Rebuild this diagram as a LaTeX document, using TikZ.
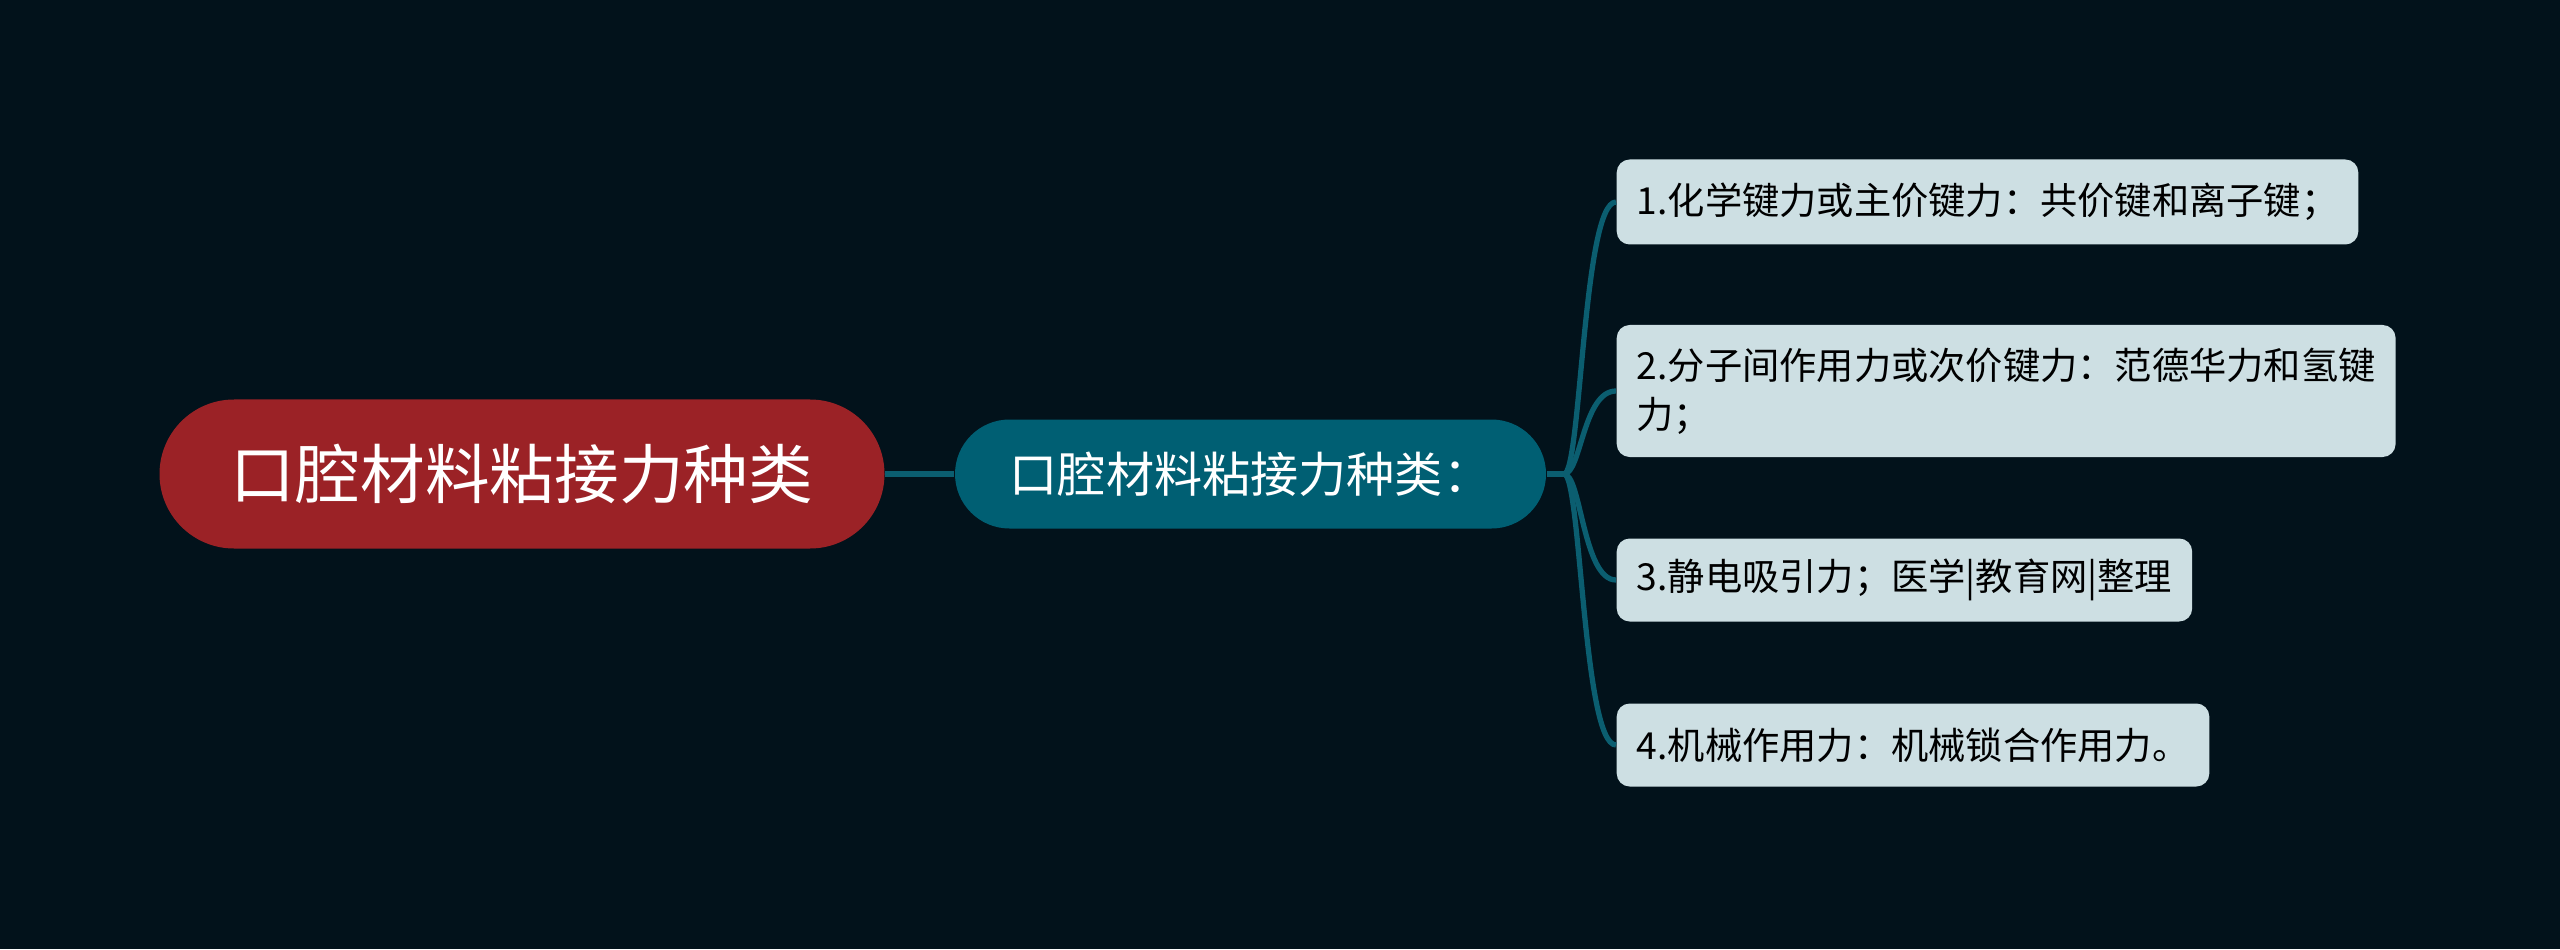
\documentclass[tikz,border=0pt]{standalone}
\usepackage{fontspec}
\newfontfamily\cjk{Noto Sans CJK SC}
\usetikzlibrary{positioning}
\definecolor{bgnavy}{HTML}{02121B}
\definecolor{rootred}{HTML}{9B2226}
\definecolor{subteal}{HTML}{005F73}
\definecolor{leafgray}{HTML}{CDDFE3}
\definecolor{linkteal}{HTML}{0B5E70}

\begin{document}
\begin{tikzpicture}[
  root/.style={fill=rootred, text=white, rounded corners=0.745cm, minimum width=7.25cm, minimum height=1.49cm, font=\cjk\fontsize{18.4}{22}\selectfont},
  sub/.style={fill=subteal, text=white, rounded corners=0.545cm, minimum width=5.91cm, minimum height=1.09cm, font=\cjk\fontsize{13.7}{16}\selectfont},
  leaf/.style={fill=leafgray, text=black, rounded corners=0.13cm, anchor=west, align=left, inner xsep=0.2cm, font=\cjk\fontsize{10.6}{13.9}\selectfont},
  link/.style={draw=linkteal, line width=1.5pt},
]
% Background
\fill[bgnavy] (0,0) rectangle (25.6,9.49);
\useasboundingbox (0,0) rectangle (25.6,9.49);
% Main nodes
\node[root] (root) at (5.22,4.75) {口腔材料粘接力种类};
\node[sub] (sub) at (12.505,4.75) {口腔材料粘接力种类：};
\coordinate (fork) at (15.64,4.75);
% Leaves
\foreach \i/\y/\h/\txt in {1/7.47/0.85/{1.化学键力或主价键力：共价键和离子键；},
                           2/5.58/1.32/{2.分子间作用力或次价键力：范德华力和氢键\\力；},
                           3/3.69/0.83/{3.静电吸引力；医学|教育网|整理},
                           4/2.04/0.83/{4.机械作用力：机械锁合作用力。}} {
  \node[leaf, minimum height=\h cm] (leaf\i) at (16.16,\y) {\txt};
}
% Connectors
\draw[link] (root) -- (sub);
\draw[link] (sub.east) -- (fork);
\foreach \i in {1,...,4} {
  \draw[link] (fork) .. controls +(0.17,0) and +(-0.33,0) .. (leaf\i.west);
}
\end{tikzpicture}
\end{document}
